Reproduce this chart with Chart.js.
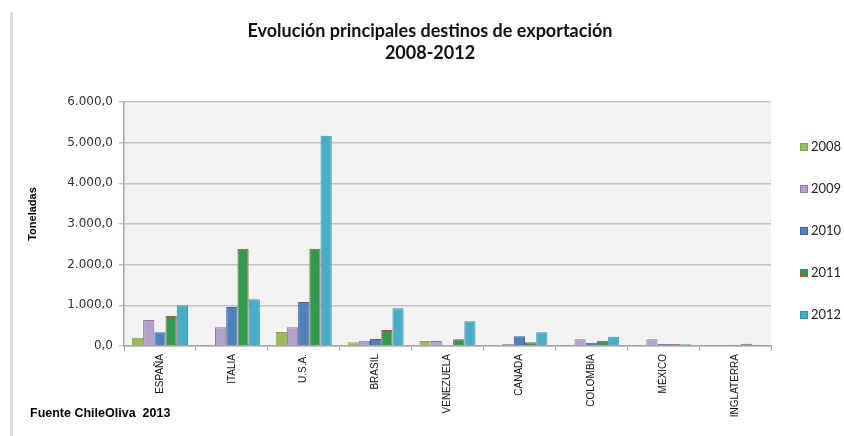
<!DOCTYPE html>
<html>
<head>
<meta charset="utf-8">
<script src="https://cdn.jsdelivr.net/npm/chart.js@4/dist/chart.umd.min.js"></script>
<style>
  html, body { margin: 0; padding: 0; background: #fff; }
  #wrap { width: 844px; height: 436px; position: relative; }
</style>
</head>
<body>
<div id="wrap"><canvas id="destinos" width="844" height="436"></canvas></div>
<script>
var paises = ['ESPAÑA', 'ITALIA', 'U.S.A.', 'BRASIL', 'VENEZUELA', 'CANADA', 'COLOMBIA', 'MÉXICO', 'INGLATERRA'];
var anios = ['2008', '2009', '2010', '2011', '2012'];

// toneladas exportadas por destino, una serie por año
var t2008 = [205, 15, 344, 90, 123, 10, 8, 8, 5];
var t2009 = [640, 459, 459, 131, 123, 49, 164, 164, 8];
var t2010 = [336, 959, 1082, 172, 10, 238, 82, 49, 8];
var t2011 = [738, 2393, 2393, 393, 164, 90, 131, 49, 57];
var t2012 = [1000, 1148, 5172, 926, 607, 336, 230, 45, 8];

var titulo = ['Evolución principales destinos de exportación', '2008-2012'];
var fuente = 'Fuente ChileOliva  2013';

var relleno = ['#9BBB59', '#B3A2C7', '#4F81BD', '#2F9B48', '#4BACC6'];
var bordes = ['#86A44A', '#8C78A8', '#3A669C', '#A0574A', '#3895AE'];

function fmtMiles(v) {
    var s = Math.round(v).toString();
    s = s.replace(/\B(?=(\d{3})+(?!\d))/g, '.');
    return s + ',0';
}

var series = [t2008, t2009, t2010, t2011, t2012];
var datasets = series.map(function (d, i) {
    return {
        label: anios[i],
        data: d,
        backgroundColor: relleno[i],
        borderColor: bordes[i],
        borderWidth: 1,
        categoryPercentage: 0.78,
        barPercentage: 1.0
    };
});

// fondo gris del area de trazado
var fondoPlugin = {
    id: 'fondo',
    beforeDraw: function (chart) {
        var a = chart.chartArea, ctx = chart.ctx;
        ctx.save();
        ctx.fillStyle = '#F2F2F2';
        ctx.fillRect(a.left, a.top, a.right - a.left, a.bottom - a.top);
        // sombra al borde izquierdo
        ctx.fillStyle = '#DDDDDD';
        ctx.fillRect(10, 12, 3, 424);
        ctx.restore();
    }
};

// titulo, rotulo del eje, leyenda vertical y nota de fuente
var textosPlugin = {
    id: 'textos',
    afterDraw: function (chart) {
        var ctx = chart.ctx;
        ctx.save();
        ctx.fillStyle = '#111';
        ctx.textAlign = 'center';
        ctx.textBaseline = 'middle';
        ctx.font = 'bold 18px Lato, "Liberation Sans", sans-serif';
        ctx.fillText(titulo[0], 430, 31);
        ctx.fillText(titulo[1], 430, 53);

        ctx.save();
        ctx.translate(33, 214);
        ctx.rotate(-Math.PI / 2);
        ctx.font = 'bold 11px "Liberation Sans", Arial, sans-serif';
        ctx.fillStyle = '#000';
        ctx.fillText('Toneladas', 0, 0);
        ctx.restore();

        ctx.font = '13px Lato, "Liberation Sans", sans-serif';
        ctx.textAlign = 'left';
        chart.data.datasets.forEach(function (ds, i) {
            var y = 147 + i * 42;
            ctx.fillStyle = ds.backgroundColor;
            ctx.fillRect(800, y - 4, 8, 8);
            ctx.strokeStyle = ds.borderColor;
            ctx.lineWidth = 1;
            ctx.strokeRect(800.5, y - 3.5, 7, 7);
            ctx.fillStyle = '#222';
            ctx.fillText(ds.label, 811, y);
        });

        ctx.font = 'bold 12.5px "Liberation Sans", Arial, sans-serif';
        ctx.fillStyle = '#000';
        ctx.fillText(fuente, 30, 414);
        ctx.restore();
    }
};

new Chart(document.getElementById('destinos').getContext('2d'), {
    type: 'bar',
    data: { labels: paises, datasets: datasets },
    plugins: [fondoPlugin, textosPlugin],
    options: {
        responsive: false,
        animation: false,
        layout: { padding: { left: 26, right: 73, top: 102, bottom: 0 } },
        plugins: {
            legend: { display: false },
            tooltip: { enabled: false },
            title: { display: false }
        },
        scales: {
            x: {
                grid: { display: true, drawOnChartArea: false, drawTicks: true, tickLength: 5, color: '#A6A6A6', offset: true },
                border: { color: '#A6A6A6', width: 1.5 },
                ticks: {
                    autoSkip: false, minRotation: 90, maxRotation: 90, padding: 3,
                    color: '#111',
                    font: { family: '"Liberation Sans", Arial, sans-serif', size: 10 }
                },
                afterFit: function (s) { s.height = 90; }
            },
            y: {
                min: 0, max: 6000,
                ticks: {
                    stepSize: 1000, padding: 6, color: '#333',
                    font: { family: '"DejaVu Sans", sans-serif', size: 12 },
                    callback: function (v) { return fmtMiles(v); }
                },
                grid: { color: '#C4C4C4', lineWidth: 1.5, tickLength: 5 },
                border: { color: '#A6A6A6', width: 1.5 },
                afterFit: function (s) { s.width = 98; }
            }
        }
    }
});
</script>
</body>
</html>
